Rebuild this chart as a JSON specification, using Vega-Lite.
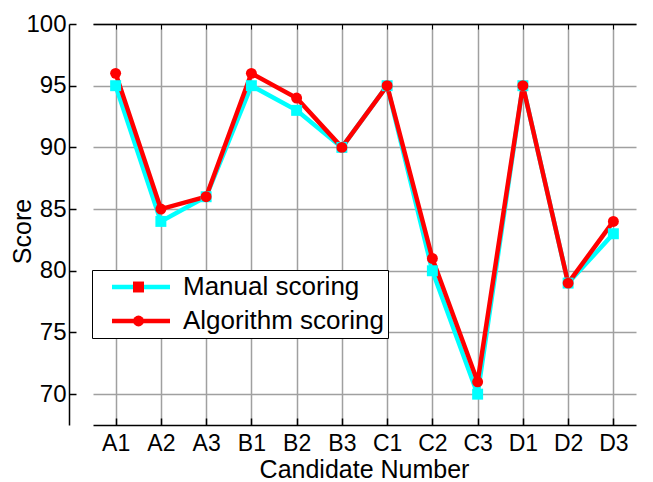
{
  "$schema": "https://vega.github.io/schema/vega-lite/v6.json",
  "width": 584,
  "height": 401,
  "autosize": {"type": "none"},
  "padding": {"left": 69, "top": 24, "right": 0, "bottom": 57},
  "background": "white",
  "config": {
    "view": {"stroke": null},
    "font": "Liberation Sans",
    "axis": {"labelColor": "black", "titleColor": "black", "titleFontWeight": "normal"}
  },
  "data": {
    "values": [
      {"candidate": "A1", "series": "Manual scoring", "score": 95},
      {"candidate": "A2", "series": "Manual scoring", "score": 84},
      {"candidate": "A3", "series": "Manual scoring", "score": 86},
      {"candidate": "B1", "series": "Manual scoring", "score": 95},
      {"candidate": "B2", "series": "Manual scoring", "score": 93},
      {"candidate": "B3", "series": "Manual scoring", "score": 90},
      {"candidate": "C1", "series": "Manual scoring", "score": 95},
      {"candidate": "C2", "series": "Manual scoring", "score": 80},
      {"candidate": "C3", "series": "Manual scoring", "score": 70},
      {"candidate": "D1", "series": "Manual scoring", "score": 95},
      {"candidate": "D2", "series": "Manual scoring", "score": 79},
      {"candidate": "D3", "series": "Manual scoring", "score": 83},
      {"candidate": "A1", "series": "Algorithm scoring", "score": 96},
      {"candidate": "A2", "series": "Algorithm scoring", "score": 85},
      {"candidate": "A3", "series": "Algorithm scoring", "score": 86},
      {"candidate": "B1", "series": "Algorithm scoring", "score": 96},
      {"candidate": "B2", "series": "Algorithm scoring", "score": 94},
      {"candidate": "B3", "series": "Algorithm scoring", "score": 90},
      {"candidate": "C1", "series": "Algorithm scoring", "score": 95},
      {"candidate": "C2", "series": "Algorithm scoring", "score": 81},
      {"candidate": "C3", "series": "Algorithm scoring", "score": 71},
      {"candidate": "D1", "series": "Algorithm scoring", "score": 95},
      {"candidate": "D2", "series": "Algorithm scoring", "score": 79},
      {"candidate": "D3", "series": "Algorithm scoring", "score": 84}
    ]
  },
  "layer": [
    {
      "mark": {"type": "line", "strokeWidth": 4.5},
      "encoding": {
        "x": {
          "field": "candidate", "type": "ordinal", "sort": null,
          "scale": {"type": "point", "range": [24, 567]},
          "axis": {
            "orient": "bottom",
            "title": "Candidate Number",
            "titleFontSize": 25,
            "titleX": 295, "titleY": 52, "titleBaseline": "alphabetic", "titleAlign": "center",
            "labelAngle": 0, "labelFontSize": 23, "labelPadding": 14,
            "tickSize": -7, "tickColor": "black", "tickWidth": 1.5,
            "domainColor": "black", "domainWidth": 1.5,
            "grid": true, "gridColor": "#a0a0a0", "gridWidth": 1.5
          }
        },
        "y": {
          "field": "score", "type": "quantitative",
          "scale": {"domain": [67.5, 100], "nice": false, "zero": false},
          "axis": {
            "title": "Score",
            "titleFontSize": 25,
            "titleX": -39, "titleY": 207, "titleAngle": -90, "titleBaseline": "alphabetic", "titleAlign": "center",
            "values": [70, 72.5, 75, 77.5, 80, 82.5, 85, 87.5, 90, 92.5, 95, 97.5, 100],
            "labelExpr": "datum.value % 5 === 0 ? datum.label : ''",
            "labelFontSize": 24, "labelPadding": 10,
            "tickSize": {"condition": {"test": "datum.value % 5 !== 0", "value": -4}, "value": -7},
            "tickColor": "black", "tickWidth": 1.5,
            "domainColor": "black", "domainWidth": 1.5,
            "grid": true,
            "gridColor": {"condition": {"test": "datum.value % 5 !== 0", "value": "#c8c8c8"}, "value": "#a0a0a0"},
            "gridDash": {"condition": {"test": "datum.value % 5 !== 0", "value": [2, 2]}, "value": []},
            "gridWidth": 1.5
          }
        },
        "color": {
          "field": "series", "type": "nominal",
          "scale": {"domain": ["Manual scoring", "Algorithm scoring"], "range": ["#00FFFF", "#FF0000"]},
          "legend": {
            "orient": "none", "legendX": 23, "legendY": 246, "title": null,
            "symbolType": "M0.3,0H6.1", "symbolSize": 400, "symbolStrokeWidth": 4.5,
            "labelFontSize": 26, "labelColor": "black", "labelOffset": 61, "labelLimit": 0,
            "padding": 4, "rowPadding": 8,
            "strokeColor": "black", "fillColor": "white"
          }
        }
      }
    },
    {
      "mark": {"type": "point", "filled": true, "opacity": 1, "size": 120, "strokeWidth": 0},
      "encoding": {
        "x": {
          "field": "candidate", "type": "ordinal", "sort": null,
          "axis": {
            "orient": "top", "title": null, "labels": false, "grid": false,
            "tickSize": -5, "tickColor": "black", "tickWidth": 1,
            "domainColor": "black", "domainWidth": 1.5
          }
        },
        "y": {"field": "score", "type": "quantitative"},
        "shape": {
          "field": "series", "type": "nominal",
          "sort": ["Manual scoring", "Algorithm scoring"],
          "scale": {"range": ["square", "circle"]},
          "legend": {
            "orient": "none", "legendX": 52.5, "legendY": 246, "title": null,
            "symbolSize": 120, "symbolStrokeWidth": 0, "symbolOpacity": 1,
            "labelFontSize": 26, "labelExpr": "''",
            "padding": 4, "rowPadding": 8
          }
        },
        "color": {
          "condition": {"test": "datum.series === 'Manual scoring' || datum.value === 'Manual scoring'", "value": "#00FFFF"},
          "value": "#FF0000"
        }
      }
    }
  ],
  "resolve": {"axis": {"x": "independent"}}
}
